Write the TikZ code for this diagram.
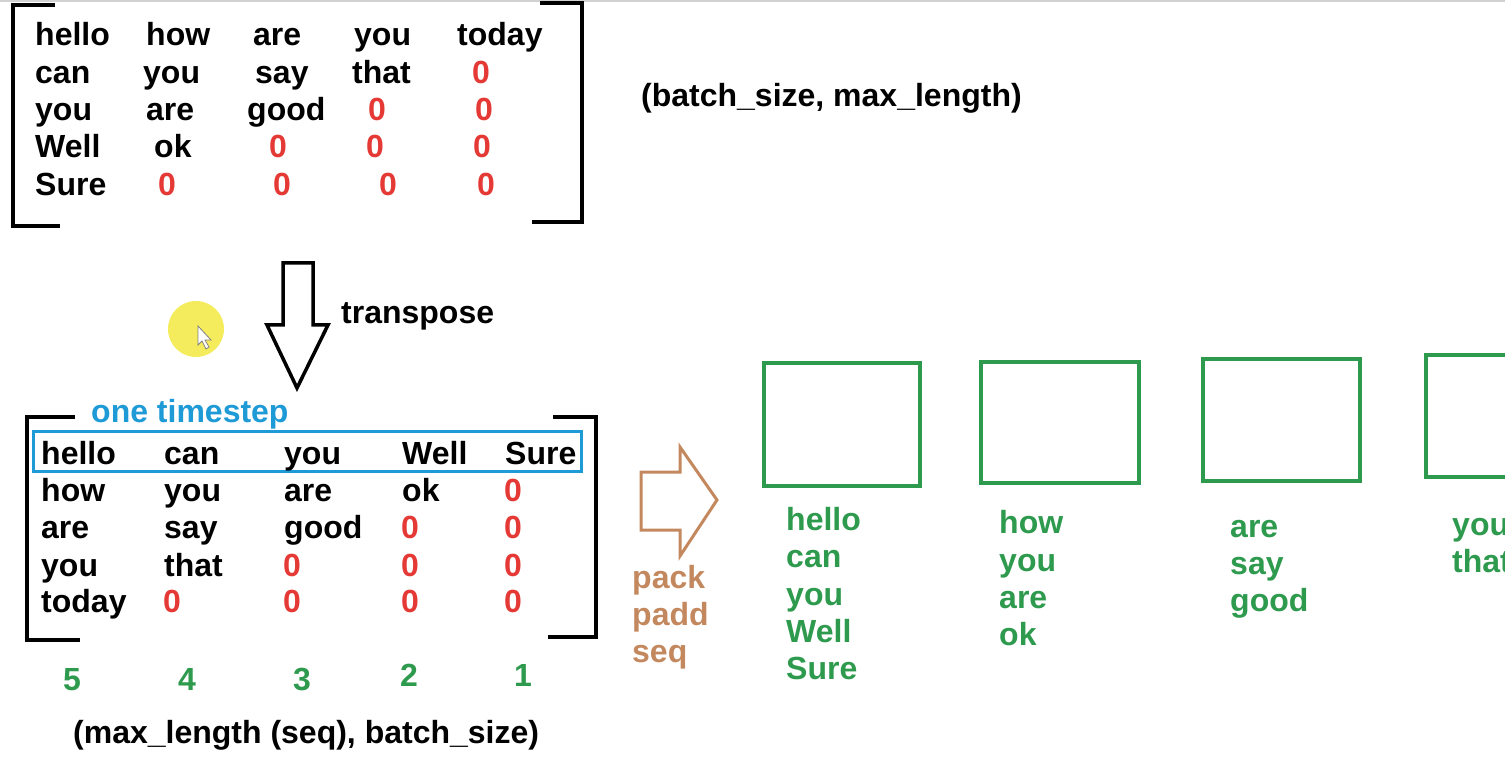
\documentclass[tikz,border=0pt]{standalone}
\usepackage{fontspec}
\setmainfont{Liberation Sans}
\definecolor{zred}{HTML}{E53935}
\definecolor{tblue}{HTML}{1E9AD6}
\definecolor{sgreen}{HTML}{2E9A4E}
\definecolor{pbrown}{HTML}{C4885E}
\definecolor{hilite}{HTML}{F4EC5C}
\begin{document}
\begin{tikzpicture}[x=1pt,y=-1pt,
  txt/.style={inner sep=0pt, font=\fontsize{32}{38}\selectfont\bfseries},
  wrd/.style={txt, anchor=base west},
  zro/.style={txt, anchor=base, text=zred},
  gwrd/.style={txt, anchor=base west, text=sgreen},
  gnum/.style={txt, anchor=base, text=sgreen},
  brk/.style={line width=3.2pt, line join=miter},
  gbox/.style={draw=sgreen, line width=3.5pt},
  pwrd/.style={txt, anchor=base west, text=pbrown}]
\useasboundingbox (0,0) rectangle (1505,767);
\clip (0,0) rectangle (1505,767);
\fill[white] (0,0) rectangle (1505,767);
\draw[gray!35, line width=1.5pt] (0,1) -- (1505,1);

% ---- top matrix ----
\draw[brk] (55,5) -- (13,5) -- (13,226) -- (60,226);
\draw[brk] (540,3) -- (582,3) -- (582,222) -- (532,222);
\node[wrd] (a11) at (35,46) {hello};
\node[wrd] (a12) at (146,46) {how};
\node[wrd] (a13) at (253,46) {are};
\node[wrd] (a14) at (354,46) {you};
\node[wrd] (a15) at (457,46) {today};
\node[wrd] (a21) at (35,84) {can};
\node[wrd] (a22) at (143,84) {you};
\node[wrd] (a23) at (255,84) {say};
\node[wrd] (a24) at (352,84) {that};
\node[zro] (a25) at (481,84) {0};
\node[wrd] (a31) at (35,121) {you};
\node[wrd] (a32) at (146,121) {are};
\node[wrd] (a33) at (247,121) {good};
\node[zro] (a34) at (377,121) {0};
\node[zro] (a35) at (484,121) {0};
\node[wrd] (a41) at (35,158) {Well};
\node[wrd] (a42) at (154,158) {ok};
\node[zro] (a43) at (278,158) {0};
\node[zro] (a44) at (375,158) {0};
\node[zro] (a45) at (482,158) {0};
\node[wrd] (a51) at (35,196) {Sure};
\node[zro] (a52) at (167,196) {0};
\node[zro] (a53) at (282,196) {0};
\node[zro] (a54) at (388,196) {0};
\node[zro] (a55) at (486,196) {0};
\node[wrd] (shape1) at (641,107) {(batch\_size, max\_length)};

% ---- transpose ----
\fill[hilite] (196,329) circle (28);
\draw[gray, fill=white, line width=0.8pt] (198,326) -- (198,345) -- (202,341) -- (206,349) -- (209,347) -- (205,340) -- (211,340) -- cycle;
\draw[line width=3.5pt, line join=miter] (283,263) -- (313,263) -- (313,325) -- (328,325) -- (297,388) -- (267,325) -- (283,325) -- cycle;
\node[wrd] (tr) at (341,324) {transpose};

% ---- bottom matrix ----
\draw[brk] (75,417) -- (27,417) -- (27,640) -- (80,640);
\draw[brk] (553,417) -- (596,417) -- (596,637) -- (548,637);
\node[wrd, text=tblue] (ots) at (91,422) {one timestep};
\draw[tblue, line width=3pt] (33,431) rectangle (581,471);
\node[wrd] (b11) at (41,464) {hello};
\node[wrd] (b12) at (164,464) {can};
\node[wrd] (b13) at (284,464) {you};
\node[wrd] (b14) at (402,464) {Well};
\node[wrd] (b15) at (505,464) {Sure};
\node[wrd] (b21) at (41,501) {how};
\node[wrd] (b22) at (164,501) {you};
\node[wrd] (b23) at (284,501) {are};
\node[wrd] (b24) at (402,501) {ok};
\node[zro] (b25) at (513,501) {0};
\node[wrd] (b31) at (41,538) {are};
\node[wrd] (b32) at (164,538) {say};
\node[wrd] (b33) at (284,538) {good};
\node[zro] (b34) at (410,538) {0};
\node[zro] (b35) at (513,538) {0};
\node[wrd] (b41) at (41,576) {you};
\node[wrd] (b42) at (164,576) {that};
\node[zro] (b43) at (292,576) {0};
\node[zro] (b44) at (410,576) {0};
\node[zro] (b45) at (513,576) {0};
\node[wrd] (b51) at (41,612) {today};
\node[zro] (b52) at (172,612) {0};
\node[zro] (b53) at (292,612) {0};
\node[zro] (b54) at (410,612) {0};
\node[zro] (b55) at (513,612) {0};
\node[gnum] (n5) at (72,690) {5};
\node[gnum] (n4) at (187,690) {4};
\node[gnum] (n3) at (302,690) {3};
\node[gnum] (n2) at (409,686) {2};
\node[gnum] (n1) at (523,686) {1};
\node[wrd] (shape2) at (73,743) {(max\_length (seq), batch\_size)};

% ---- pack padded seq ----
\draw[pbrown, line width=3pt, line join=miter] (641,472) -- (680,472) -- (680,447) -- (717,500) -- (680,556) -- (680,530) -- (641,530) -- cycle;
\node[pwrd] (p1) at (632,588) {pack};
\node[pwrd] (p2) at (632,625) {padd};
\node[pwrd] (p3) at (632,662) {seq};

% ---- green boxes ----
\draw[gbox] (764,363) rectangle (920,486);
\draw[gbox] (981,362) rectangle (1139,483);
\draw[gbox] (1203,359) rectangle (1360,481);
\draw[gbox] (1426,355) rectangle (1590,477);
\node[gwrd] (c11) at (786,530) {hello};
\node[gwrd] (c12) at (786,567) {can};
\node[gwrd] (c13) at (786,605) {you};
\node[gwrd] (c14) at (786,642) {Well};
\node[gwrd] (c15) at (786,679) {Sure};
\node[gwrd] (c21) at (999,533) {how};
\node[gwrd] (c22) at (999,571) {you};
\node[gwrd] (c23) at (999,608) {are};
\node[gwrd] (c24) at (999,645) {ok};
\node[gwrd] (c31) at (1230,537) {are};
\node[gwrd] (c32) at (1230,574) {say};
\node[gwrd] (c33) at (1230,611) {good};
\node[gwrd] (c41) at (1452,535) {you};
\node[gwrd] (c42) at (1452,572) {that};
\end{tikzpicture}
\end{document}
